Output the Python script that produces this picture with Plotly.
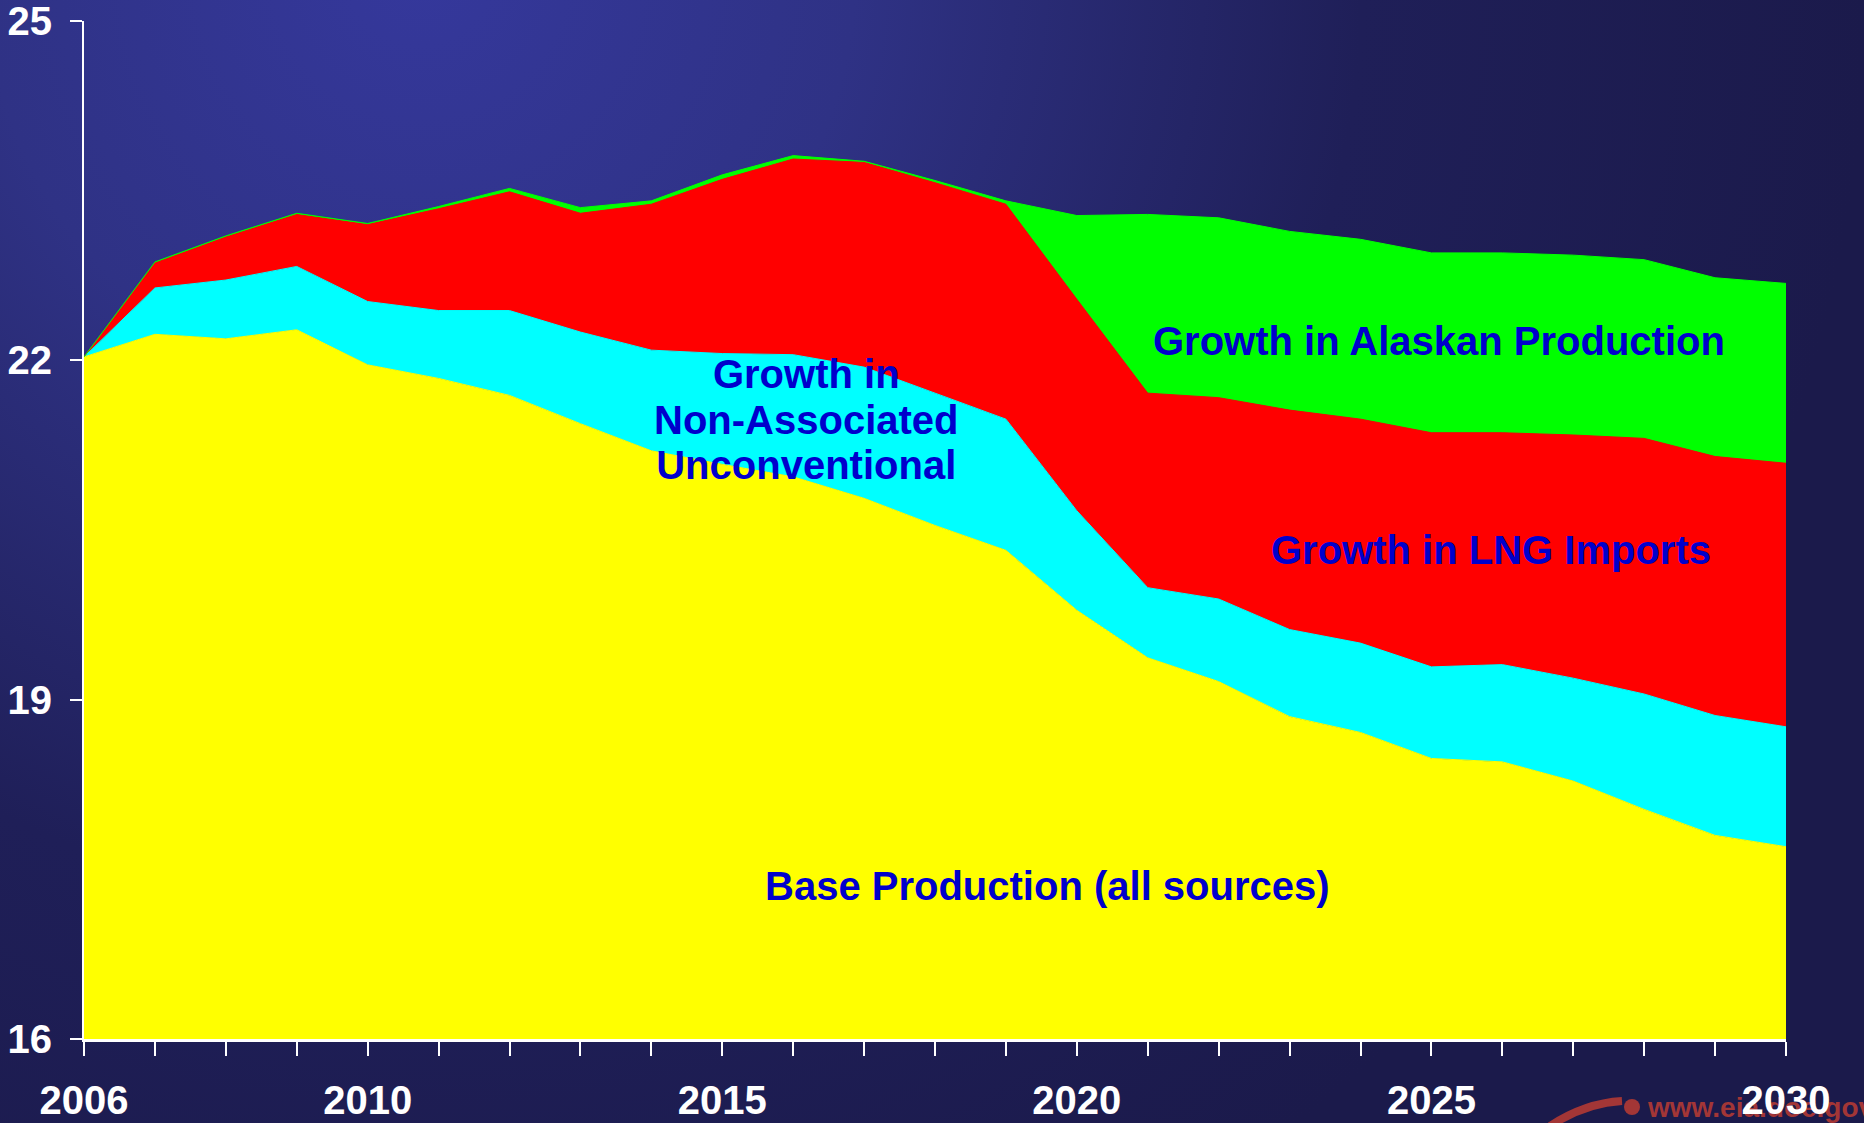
import base64
import plotly.graph_objects as go

# ---------------- data ----------------
years = list(range(2006, 2031))
base_production = [22.03, 22.23, 22.19, 22.27, 21.96, 21.84, 21.69, 21.44, 21.20, 21.08,
                   20.97, 20.78, 20.54, 20.32, 19.79, 19.37, 19.16, 18.85, 18.71, 18.48,
                   18.45, 18.28, 18.03, 17.80, 17.70]
growth_unconventional = [0.00, 0.41, 0.52, 0.56, 0.56, 0.60, 0.75, 0.81, 0.89, 0.98,
                         1.08, 1.16, 1.17, 1.16, 0.88, 0.62, 0.73, 0.77, 0.79, 0.81,
                         0.86, 0.91, 1.02, 1.06, 1.06]
growth_lng = [0.00, 0.22, 0.38, 0.46, 0.68, 0.90, 1.05, 1.05, 1.29, 1.54,
              1.73, 1.81, 1.86, 1.90, 1.87, 1.72, 1.78, 1.94, 1.98, 2.07,
              2.05, 2.15, 2.26, 2.29, 2.33]
growth_alaska = [0.00, 0.01, 0.01, 0.01, 0.01, 0.02, 0.03, 0.05, 0.03, 0.04,
                 0.03, 0.01, 0.02, 0.03, 0.74, 1.58, 1.59, 1.58, 1.59, 1.59,
                 1.59, 1.59, 1.58, 1.58, 1.59]

x_label_years = [2006, 2010, 2015, 2020, 2025, 2030]
y_tick_values = [16, 19, 22, 25]

series_names = ["Base Production (all sources)",
                "Growth in Non-Associated Unconventional",
                "Growth in LNG Imports",
                "Growth in Alaskan Production"]
series_colors = ["#FFFF00", "#00FFFF", "#FF0000", "#00FF00"]

# ---------------- figure ----------------
W, H = 1864, 1123
ML, MR, MT, MB = 84, 78, 21, 84
PW, PH = W - ML - MR, H - MT - MB

fig = go.Figure()
for name, vals, col in zip(series_names,
                           [base_production, growth_unconventional, growth_lng, growth_alaska],
                           series_colors):
    fig.add_trace(go.Scatter(
        x=years, y=vals, name=name, stackgroup="one",
        mode="lines", line=dict(width=1, color=col), fillcolor=col,
        showlegend=False, hoverinfo="skip"))

# background gradient + faint watermark as an SVG image
svg = f'''<svg xmlns="http://www.w3.org/2000/svg" width="{W}" height="{H}" viewBox="0 0 {W} {H}">
<defs><radialGradient id="g" gradientUnits="userSpaceOnUse" cx="420" cy="-30" r="1450">
<stop offset="0" stop-color="#35389c"/>
<stop offset="0.3" stop-color="#2f3285"/>
<stop offset="0.65" stop-color="#1f1f58"/>
<stop offset="1" stop-color="#1b1a4b"/>
</radialGradient></defs>
<rect x="0" y="0" width="{W}" height="{H}" fill="url(#g)"/>
<path d="M1550,1126 Q1585,1103 1622,1101" stroke="#a33636" stroke-width="8" fill="none"/>
<circle cx="1632" cy="1107" r="8" fill="#a33636"/>
<text x="1648" y="1117" font-family="Liberation Sans, Arial, sans-serif" font-weight="bold" font-size="28" fill="#a33636">www.eia.doe.gov</text>
</svg>'''
src = "data:image/svg+xml;base64," + base64.b64encode(svg.encode()).decode()
fig.add_layout_image(dict(
    source=src, xref="paper", yref="paper",
    x=-ML / PW, y=1 + MT / PH, sizex=W / PW, sizey=H / PH,
    xanchor="left", yanchor="top", sizing="stretch", layer="below"))

FAM = "Liberation Sans, Arial, sans-serif"
label_font = dict(family=FAM, size=40, color="#0000CC", weight="bold")
annos = [
    ("Base Production (all sources)", 2019.59, 17.35),
    ("Growth in Alaskan Production", 2025.11, 22.17),
    ("Growth in LNG Imports", 2025.84, 20.32),
]
for txt, ax_, ay_ in annos:
    fig.add_annotation(x=ax_, y=ay_, xref="x", yref="y", text=txt, showarrow=False,
                       font=label_font, xanchor="center", yanchor="middle", align="center")

# three-line label with tight line spacing (smaller base font, 40px spans)
big = "<span style='font-size:40px'>{}</span>"
multi = "<br>".join(big.format(s) for s in ["Growth in", "Non-Associated", "Unconventional"])
fig.add_annotation(x=2016.19, y=21.48, xref="x", yref="y", text=multi, showarrow=False,
                   font=dict(family=FAM, size=35, color="#0000CC", weight="bold"),
                   xanchor="center", yanchor="middle", align="center")

tick_font = dict(family=FAM, size=40, color="white", weight="bold")
fig.update_xaxes(
    range=[2006, 2030], tickmode="array", tickvals=years,
    ticktext=[str(y) if y in x_label_years else "" for y in years],
    showgrid=False, zeroline=False, showline=True, linecolor="white", linewidth=3,
    ticks="outside", ticklen=14, tickwidth=2, tickcolor="white",
    tickfont=tick_font, ticklabelstandoff=10, ticklabeloverflow="allow", automargin=False)
fig.update_yaxes(
    range=[16, 25], tickmode="array", tickvals=y_tick_values,
    ticktext=[str(v) for v in y_tick_values],
    showgrid=False, zeroline=False, showline=True, linecolor="white", linewidth=2,
    ticks="outside", ticklen=12, tickwidth=2, tickcolor="white",
    tickfont=tick_font, ticklabelstandoff=10, ticklabeloverflow="allow", automargin=False)

fig.update_layout(
    width=W, height=H, margin=dict(l=ML, r=MR, t=MT, b=MB, pad=0, autoexpand=False),
    paper_bgcolor="#1b1a4b", plot_bgcolor="rgba(0,0,0,0)", showlegend=False)

fig.write_html("out.html", config={"displayModeBar": False},
               post_script="document.body.style.margin='0';document.body.style.overflow='hidden';")
